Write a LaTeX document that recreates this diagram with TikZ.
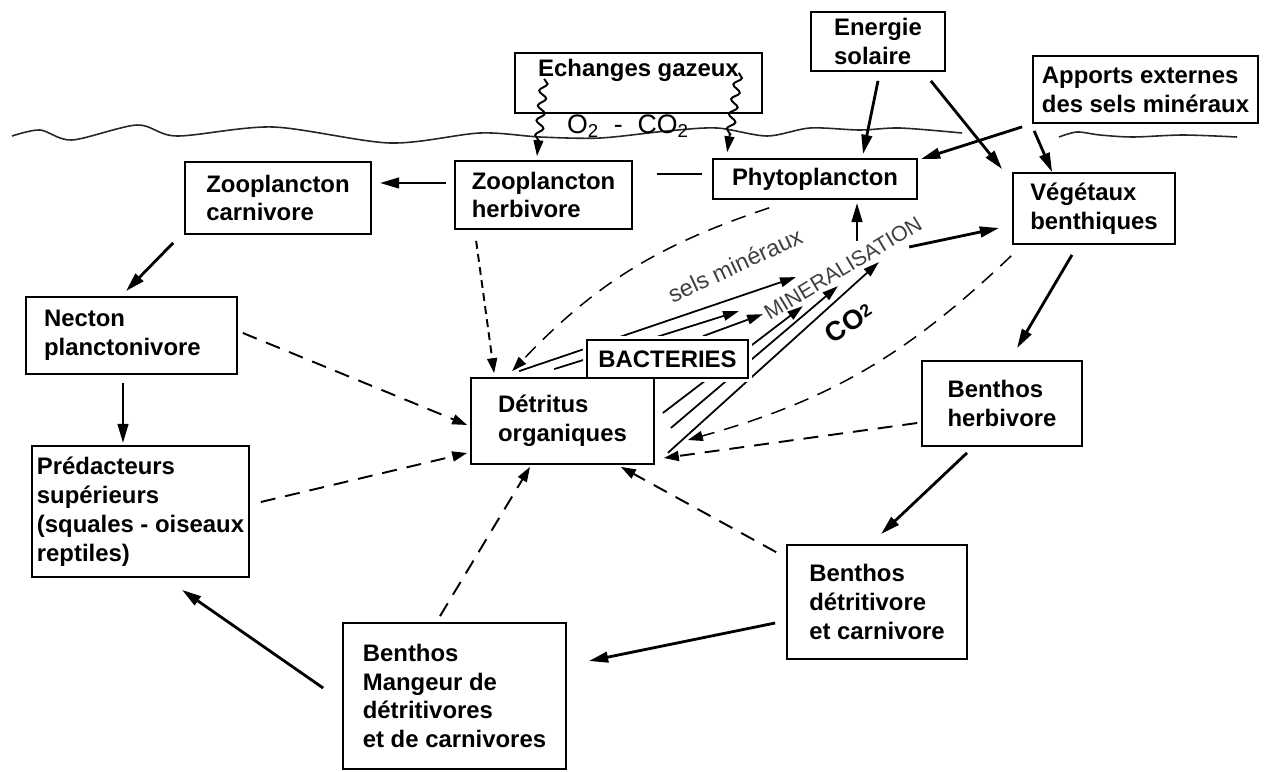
\documentclass[tikz,border=0pt]{standalone}
\usepackage{fontspec}
\setmainfont{Liberation Sans}
\usetikzlibrary{arrows.meta,calc,decorations.pathmorphing}
\pgfdeclarelayer{fond}
\pgfsetlayers{fond,main}

\tikzset{
  boite/.style={draw, line width=1pt, align=left, inner sep=0pt,
    font=\fontsize{13.6}{16.4}\selectfont\bfseries},
  flux/.style={-{Triangle[length=11pt,width=6pt]}, line width=1.6pt},
  detr/.style={-{Triangle[length=8.5pt,width=5.7pt]}, line width=1.1pt, dash pattern=on 8.5pt off 5.7pt},
  minera/.style={-{Triangle[length=9pt,width=5.5pt]}, line width=1pt},
  surface/.style={line width=0.9pt, black!85},
  vague/.style={-{Triangle[length=9pt,width=5.5pt]}, line width=1.1pt, decorate,
    decoration={snake, amplitude=2.2pt, segment length=8.5pt, post length=8pt}},
}

\begin{document}
\begin{tikzpicture}[x=0.02cm, y=-0.02cm]
    \useasboundingbox (0,0) rectangle (1264,771);

    % surface de l'eau
    \draw[surface] plot[smooth] coordinates {(12,136) (40,130) (72,140) (137,125) (177,136) (273,127) (390,143) (480,133) (540,137) (600,138) (667,131) (717,128) (767,136) (810,128) (860,130) (900,128) (962,133)};
    \draw[surface] plot[smooth] coordinates {(1059,137) (1077,132) (1100,135) (1133,137) (1183,135) (1237,137)};

    % boites
    \node[boite, minimum width=4.94cm, minimum height=1.2cm,
      label={[anchor=north, inner sep=0pt, yshift=-0.14cm, font=\fontsize{13.6}{16.4}\selectfont\bfseries]north:Echanges gazeux}] (gaz) at (638.5,83) {};
    \node[boite, minimum width=2.68cm, minimum height=1.18cm] (sol) at (878,41.5) {Energie\\solaire};
    \node[boite, minimum width=4.5cm, minimum height=1.34cm] (ext) at (1145.5,89.5) {Apports externes\\des sels minéraux};
    \node[boite, minimum width=3.54cm, minimum height=1.36cm] (zooh) at (543.5,195) {Zooplancton\\herbivore};
    \node[boite, minimum width=4.08cm, minimum height=0.8cm] (phyto) at (815,179) {Phytoplancton};
    \node[boite, minimum width=3.24cm, minimum height=1.42cm] (veg) at (1094,208.5) {Végétaux\\benthiques};
    \node[boite, minimum width=3.72cm, minimum height=1.44cm] (zooc) at (278,198) {Zooplancton\\carnivore};
    \node[boite, text width=3.5cm, inner xsep=0.36cm, minimum height=1.54cm] (necton) at (131.5,335.5) {Necton\\planctonivore};
    \node[boite, minimum width=4.34cm, minimum height=2.62cm] (pred) at (140.5,511.5) {Prédacteurs\\supérieurs\\(squales - oiseaux\\reptiles)};
    \node[boite, minimum width=3.2cm, minimum height=1.7cm] (bherb) at (1002,403.5) {Benthos\\herbivore};
    \node[boite, minimum width=3.6cm, minimum height=2.28cm] (bdetr) at (877,602) {Benthos\\détritivore\\et carnivore};
    \node[boite, minimum width=4.46cm, minimum height=2.92cm] (bmang) at (454.5,696) {Benthos\\Mangeur de\\détritivores\\et de carnivores};
    \node[boite, fill=white, preaction={draw=white, line width=5pt}, minimum width=3.22cm, minimum height=0.76cm] (bact) at (667.5,359) {BACTERIES};
    \node[boite, minimum width=3.66cm, minimum height=1.72cm] (det) at (562.5,421) {Détritus\\organiques};

    % echanges gazeux
    \draw[vague] ($(gaz.south west)+(30,-35)$) -- ($(zooh.north)+(-6.5,-4)$);
    \draw[vague] ($(gaz.south east)+(-24,-41)$) -- ($(phyto.north west)+(15,-6)$);
    \node[font=\fontsize{15.2}{18}\selectfont] (gazlab) at (628,126) {O\textsubscript{2}\ \ -\ \ CO\textsubscript{2}};

    % chaine alimentaire
    \draw[flux] ($(zooh.west)+(-8,-12)$) -- ($(zooc.east)+(8,-15)$);
    \draw[flux] ($(zooc.south west)+(-11,8)$) -- ($(necton.north)+(-5.5,-5)$);
    \draw[flux] ($(necton.south)+(-8.5,8)$) -- ($(pred.north)+(-17.5,-2)$);
    \draw[flux] ($(bmang.west)+(-19,-8)$) -- ($(pred.south)+(41.5,12)$);
    \draw[flux] ($(bdetr.west)+(-11,21)$) -- ($(bmang.east)+(22,-35)$);
    \draw[flux] ($(bherb.south)+(-35,6)$) -- ($(bdetr.north)+(4,-10)$);
    \draw[flux] ($(veg.south)+(-22,10)$) -- ($(bherb.north)+(15,-12)$);
    \draw[flux] ($(sol.south)+(0,9)$) -- ($(phyto.north)+(48,-4)$);
    \draw[flux] ($(sol.south east)+(-15,9)$) -- ($(veg.north west)+(-10,-3)$);
    \draw[flux] ($(ext.south west)+(-10,3)$) -- ($(phyto.north east)+(3,1)$);
    \draw[flux] ($(ext.south west)+(2,7)$) -- ($(veg.north west)+(40,0)$);
    \draw[line width=0.8pt] ($(zooh.east)+(24,-21)$) -- ($(phyto.west)+(-10,-5)$);

    % vers les detritus
    \draw[detr] ($(necton.east)+(5,-2.5)$) -- ($(det.west)+(-3,4)$);
    \draw[detr] ($(pred.east)+(11,-9.5)$) -- ($(det.west)+(-3,32)$);
    \draw[detr] ($(bmang.north)+(-14.5,-6)$) -- ($(det.south)+(-32.5,2)$);
    \draw[detr] ($(bdetr.north west)+(-10,8)$) -- ($(det.south east)+(-34,2)$);
    \draw[detr] ($(bherb.west)+(-4,19.5)$) -- ($(det.east)+(9,37)$);
    \draw[detr, dash pattern=on 4.5pt off 3pt] ($(zooh.south west)+(22,11)$) -- ($(det.north west)+(24,-4)$);
    \draw[detr, line width=0.85pt] ($(veg.south west)+(-1,11)$) to[bend left=14] ($(det.east)+(33,19)$);
    \draw[detr, line width=0.85pt] ($(phyto.south west)+(57,8)$) to[bend right=14] ($(det.north west)+(42,-6)$);

    % mineralisation
    \begin{pgfonlayer}{fond}
    \draw[minera] ($(det.north west)+(49,-6)$) -- ($(bact.north east)+(47,-62)$);
    \draw[minera] ($(det.north west)+(84,-8)$) -- ($(bact.north east)+(-10,-28)$);
    \draw[minera] ($(bact.north)+(35.5,-3)$) -- ($(bact.north east)+(14,-25)$);
    \draw[minera] ($(det.east)+(8,-8)$) -- ($(bact.north east)+(54,-33)$);
    \draw[minera] ($(det.east)+(16,7)$) -- ($(bact.north east)+(89,-53)$);
    \draw[minera] ($(det.south east)+(13,-12)$) -- ($(bact.north east)+(130,-77)$);
    \end{pgfonlayer}
    \draw[flux] ($(phyto.south)+(42,41)$) -- ($(phyto.south)+(42,3)$);
    \draw[flux] ($(veg.west)+(-103,38.5)$) -- ($(veg.west)+(-13,19.5)$);

    \node[rotate=25, text=black!75, font=\fontsize{13.4}{16}\selectfont] (sels) at (735,265) {sels minéraux};
    \node[rotate=31, text=black!75, font=\fontsize{12.2}{15}\selectfont] (minlab) at (843,268) {MINERALISATION};
    \node[rotate=33, font=\fontsize{15.5}{18}\selectfont\bfseries] (co2) at (849,323) {CO\raisebox{0.3ex}{\fontsize{10}{11}\selectfont 2}};
\end{tikzpicture}
\end{document}
